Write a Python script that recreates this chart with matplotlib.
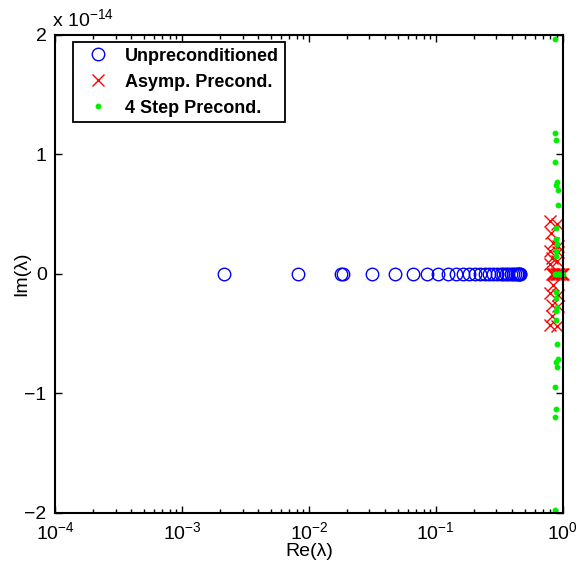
import numpy as np
import matplotlib
matplotlib.use('Agg')
import matplotlib.pyplot as plt
from matplotlib.ticker import LogLocator, FixedLocator, FuncFormatter

plt.rcParams['font.family'] = ['Liberation Sans', 'DejaVu Sans']
plt.rcParams['mathtext.fontset'] = 'custom'
plt.rcParams['mathtext.rm'] = 'Liberation Sans'
plt.rcParams['mathtext.it'] = 'Liberation Sans:italic'

SCALE = 1e-14

# --- Unpreconditioned eigenvalues (all real) ---
unprec_re = [0.00214, 0.00819, 0.0180, 0.0184, 0.0313, 0.0475, 0.0659, 0.0849,
             0.1037, 0.1243, 0.1436, 0.1631, 0.1819, 0.2028, 0.2220, 0.2430,
             0.2613, 0.2810, 0.3022, 0.3249, 0.3372, 0.3558, 0.3690, 0.3898,
             0.4040, 0.4190, 0.4345, 0.4425, 0.4506, 0.4589, 0.4600]
unprec_im = [0.0] * len(unprec_re)

# --- Asymptotic preconditioner eigenvalues ---
asymp_re = [0.790, 0.897, 0.804, 0.834, 0.913, 0.790, 0.913, 0.819, 0.897, 0.790,
            0.834, 0.790, 0.913, 0.819, 0.913, 0.819, 0.790, 0.897,
            0.82, 0.84, 0.86, 0.88, 0.90, 0.92, 0.94, 0.96, 0.98, 1.00]
asymp_im = [0.44, 0.42, 0.34, 0.26, 0.23, 0.19, 0.18, 0.13, 0.11, 0.08,
            -0.09, -0.16, -0.18, -0.26, -0.27, -0.35, -0.43, -0.44,
            0, 0, 0, 0, 0, 0, 0, 0, 0, 0]

# --- 4 step preconditioner eigenvalues ---
step4_re = [0.876, 0.876, 0.890, 0.876, 0.905, 0.890, 0.913, 0.913, 0.890, 0.890,
            0.895, 0.885, 0.890,
            0.890, 0.885, 0.895, 0.890, 0.890, 0.905, 0.913, 0.890, 0.905, 0.876,
            0.890, 0.876, 0.876,
            0.87, 0.89, 0.91, 0.93, 0.95, 0.97, 0.99, 1.00]
step4_im = [1.97, 1.18, 1.12, 0.94, 0.77, 0.74, 0.70, 0.58, 0.38, 0.29,
            0.25, 0.19, 0.15,
            -0.15, -0.20, -0.28, -0.31, -0.39, -0.59, -0.71, -0.74, -0.78, -0.95,
            -1.13, -1.20, -1.98,
            0, 0, 0, 0, 0, 0, 0, 0]

fig = plt.figure(figsize=(5.79, 5.73), dpi=100)
ax = fig.add_axes([0.095, 0.105, 0.877, 0.834])

ax.plot(unprec_re, np.array(unprec_im) * SCALE, 'o', color='blue', mfc='none',
        markersize=9, markeredgewidth=1.0, label='Unpreconditioned', clip_on=False)
ax.plot(asymp_re, np.array(asymp_im) * SCALE, 'x', color='red',
        markersize=8, markeredgewidth=1.0, label='Asymp. Precond.', clip_on=False)
ax.plot(step4_re, np.array(step4_im) * SCALE, 'o', color='#00ee00', mec='#00ee00',
        markersize=3.2, label='4 Step Precond.', clip_on=False)

ax.set_xscale('log')
ax.set_xlim(1e-4, 1e0)
ax.set_ylim(-2 * SCALE, 2 * SCALE)

ax.xaxis.set_major_locator(LogLocator(base=10, numticks=10))
ax.xaxis.set_minor_locator(LogLocator(base=10, subs=np.arange(2, 10), numticks=20))
ax.yaxis.set_major_locator(FixedLocator(np.array([-2, -1, 0, 1, 2]) * SCALE))
ax.yaxis.set_major_formatter(FuncFormatter(
    lambda v, p: ('%d' % round(v / SCALE)).replace('-', '\u2212')))

ax.tick_params(which='both', direction='in', top=True, right=True, labelsize=14,
               width=1)
ax.tick_params(which='major', length=5, pad=6)
ax.tick_params(which='minor', length=3)
for s in ax.spines.values():
    s.set_linewidth(1.5)

ax.text(-0.005, 1.01, r'x 10$^{-14}$', transform=ax.transAxes, fontsize=14,
        ha='left', va='bottom')

ax.set_xlabel('Re(\u03bb)', fontsize=14, labelpad=0)
ax.set_ylabel('Im(\u03bb)', fontsize=14, labelpad=-4)

leg = ax.legend(loc='upper left', bbox_to_anchor=(0.035, 0.985), borderaxespad=0,
                fancybox=False, edgecolor='black', framealpha=1,
                prop={'weight': 'bold', 'size': 13},
                handletextpad=0.4, labelspacing=0.5, borderpad=0.3, handlelength=2.2)
leg.get_frame().set_linewidth(1.3)

plt.savefig('out.png', dpi=100)
